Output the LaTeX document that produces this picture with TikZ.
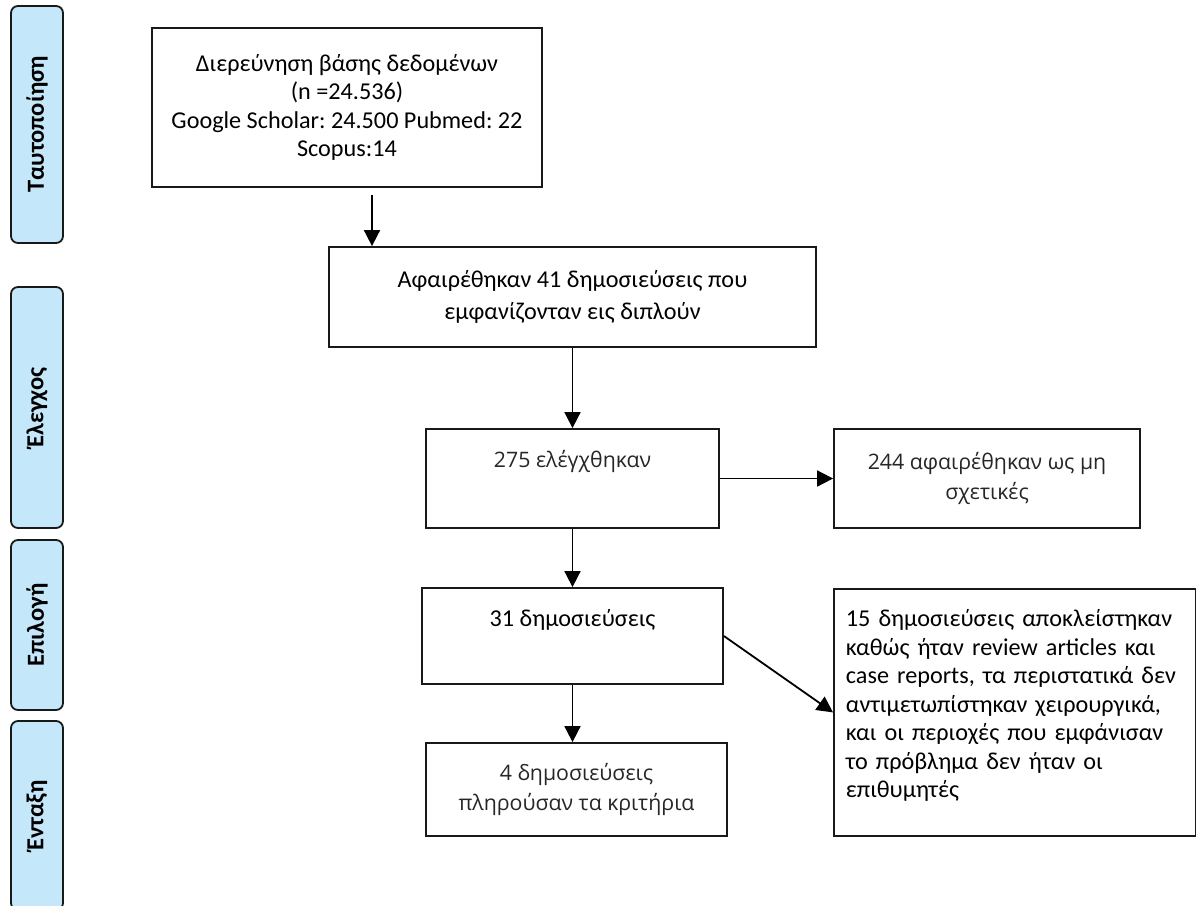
\documentclass[tikz,border=0pt]{standalone}
\usepackage{fontspec}
\setmainfont{Carlito}
\newfontfamily\lightfont{Open Sans}
\usetikzlibrary{arrows.meta,calc}
\definecolor{sidefill}{RGB}{196,231,249}
\frenchspacing
\begin{document}
\begin{tikzpicture}[x=1pt,y=-1pt,
  box/.style={draw=black!90, line width=1.8pt, rectangle, inner sep=0pt, align=center,
              font=\fontsize{24.2}{28.5}\selectfont},
  lbox/.style={box, font=\lightfont\fontsize{21.3}{29.5}\selectfont, text=black!85},
  side/.style={draw=black!90, line width=1.8pt, rounded corners=7pt, fill=sidefill,
               inner sep=0pt, rotate=90, font=\bfseries\fontsize{24.5}{28}\selectfont},
  arr/.style={line width=1.8pt, -{Triangle[length=16pt,width=16pt]}}]
\useasboundingbox (0,0) rectangle (1196,905);

% side bars
\node[side, minimum width=237pt, minimum height=52pt] (s1) at (37,124.5) {Ταυτοποίηση};
\node[side, minimum width=241pt, minimum height=52pt] (s2) at (37,407.5) {Έλεγχος};
\node[side, minimum width=170pt, minimum height=52pt] (s3) at (37,625) {Επιλογή};
\node[side, minimum width=189pt, minimum height=52pt] (s4) at (37,815.5) {Ένταξη};

% main boxes
\node[box, minimum width=390pt, minimum height=159pt] (A) at (347,107.5)
  {Διερεύνηση βάσης δεδομένων\\(n =24.536)\\Google Scholar: 24.500 Pubmed: 22\\Scopus:14};
\node[box, minimum width=487pt, minimum height=100pt, font=\fontsize{24.2}{31.5}\selectfont] (B) at (572.5,297)
  {Αφαιρέθηκαν 41 δημοσιεύσεις που\\εμφανίζονταν εις διπλούν};
\node[lbox, minimum width=293pt, minimum height=99pt] (C) at (572.5,478.5)
  {275 ελέγχθηκαν\\\strut};
\node[lbox, minimum width=306pt, minimum height=99pt] (D) at (987,478.5)
  {244 αφαιρέθηκαν ως μη\\σχετικές};
\node[box, minimum width=301pt, minimum height=96pt] (E) at (572.5,636)
  {31 δημοσιεύσεις\\\strut};
\node[lbox, minimum width=301pt, minimum height=93pt] (F) at (576.5,789.5)
  {4 δημοσιεύσεις\\πληρούσαν τα κριτήρια};
\node[box, anchor=north west, inner xsep=12pt, inner ysep=0pt, text width=338pt,
      align=left, text height=38pt, text depth=209pt] (G) at (833,588)
  {15 δημοσιεύσεις αποκλείστηκαν\\
   καθώς ήταν review articles και\\
   case reports, τα περιστατικά δεν\\
   αντιμετωπίστηκαν χειρουργικά,\\
   και οι περιοχές που εμφάνισαν\\
   το πρόβλημα δεν ήταν οι\\
   επιθυμητές};

% connectors
\coordinate (a1) at (372,195);
\draw[arr] (a1) -- (a1 |- B.north);
\draw[arr] (B) -- (C);
\draw[arr] (C) -- (D);
\draw[arr] (C) -- (E);
\draw[arr] (E.south) -- (E.south |- F.north);
\draw[arr] (E.east) -- (G.west);
\end{tikzpicture}
\end{document}
